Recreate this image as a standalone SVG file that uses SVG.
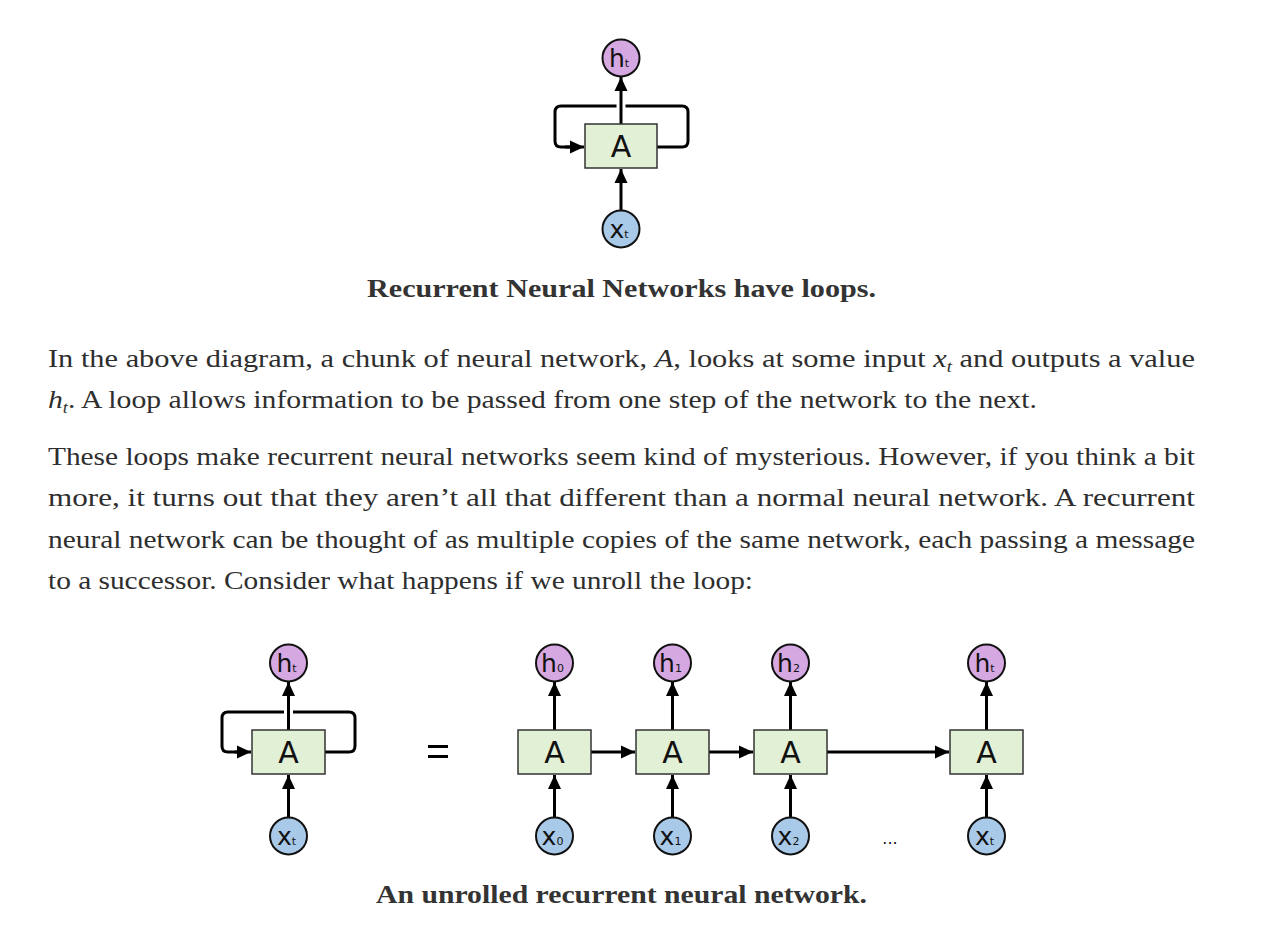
<svg xmlns="http://www.w3.org/2000/svg" width="1280" height="931" viewBox="0 0 1280 931">
<defs>
<marker id="ah" markerUnits="userSpaceOnUse" markerWidth="16" markerHeight="16" viewBox="0 0 16 16" refX="15" refY="8" orient="auto">
<path d="M1,1.5 L15,8 L1,14.5 Z" fill="#000"/>
</marker>
</defs>
<style>
.box{fill:#e2f0d6;stroke:#333;stroke-width:1.5}
.h{fill:#d5a8e2;stroke:#111;stroke-width:2}
.x{fill:#a9c9e8;stroke:#111;stroke-width:2}
.ln{fill:none;stroke:#000;stroke-width:3}
.gap{fill:none;stroke:#fff;stroke-width:9}
.lbl{font-family:"DejaVu Sans",sans-serif;fill:#111}
.big{font-size:30px}
.nm{font-size:25px}
.sb{font-size:11px}
.body{font-family:"Liberation Serif",serif;font-size:26px;fill:#2e2e2e}
.cap{font-family:"Liberation Serif",serif;font-size:26px;font-weight:bold;fill:#333}
</style>
<rect width="1280" height="931" fill="#fff"/>

<g id="connectors">
<!-- top diagram -->
<path class="ln" d="M575,147 H561 Q555,147 555,141 V112 Q555,106 561,106 H682 Q688,106 688,112 V141 Q688,147 682,147 H657"/>
<line class="ln" x1="565" y1="147" x2="584" y2="147" marker-end="url(#ah)"/>
<line class="gap" x1="621" y1="103" x2="621" y2="110"/>
<line class="ln" x1="621" y1="124" x2="621" y2="77" marker-end="url(#ah)"/>
<line class="ln" x1="621" y1="211" x2="621" y2="169" marker-end="url(#ah)"/>
<!-- bottom-left folded -->
<path class="ln" d="M240,752 H228 Q222,752 222,746 V718 Q222,712 228,712 H349 Q355,712 355,718 V746 Q355,752 349,752 H325"/>
<line class="ln" x1="235" y1="752" x2="251" y2="752" marker-end="url(#ah)"/>
<line class="gap" x1="288.5" y1="709" x2="288.5" y2="715"/>
<line class="ln" x1="288.5" y1="730" x2="288.5" y2="682" marker-end="url(#ah)"/>
<line class="ln" x1="288.5" y1="818" x2="288.5" y2="775" marker-end="url(#ah)"/>
<!-- unrolled -->
<line class="ln" x1="554.5" y1="730" x2="554.5" y2="682" marker-end="url(#ah)"/>
<line class="ln" x1="554.5" y1="818" x2="554.5" y2="775" marker-end="url(#ah)"/>
<line class="ln" x1="672.5" y1="730" x2="672.5" y2="682" marker-end="url(#ah)"/>
<line class="ln" x1="672.5" y1="818" x2="672.5" y2="775" marker-end="url(#ah)"/>
<line class="ln" x1="790.5" y1="730" x2="790.5" y2="682" marker-end="url(#ah)"/>
<line class="ln" x1="790.5" y1="818" x2="790.5" y2="775" marker-end="url(#ah)"/>
<line class="ln" x1="986.5" y1="730" x2="986.5" y2="682" marker-end="url(#ah)"/>
<line class="ln" x1="986.5" y1="818" x2="986.5" y2="775" marker-end="url(#ah)"/>
<line class="ln" x1="591" y1="752" x2="635" y2="752" marker-end="url(#ah)"/>
<line class="ln" x1="709" y1="752" x2="753" y2="752" marker-end="url(#ah)"/>
<line class="ln" x1="827" y1="752" x2="949" y2="752" marker-end="url(#ah)"/>
</g>

<!-- top diagram nodes -->
<g id="top-A"><rect class="box" x="585" y="124" width="72" height="44"/><text class="lbl big" x="621" y="157" text-anchor="middle">A</text></g>
<g id="top-h"><circle class="h" cx="621" cy="58" r="18.5"/><text class="lbl nm" x="619" y="67" text-anchor="middle">h<tspan class="sb">t</tspan></text></g>
<g id="top-x"><circle class="x" cx="621" cy="229" r="18.5"/><text class="lbl nm" x="619" y="238" text-anchor="middle">x<tspan class="sb">t</tspan></text></g>

<g id="caption1"><text class="cap" x="367" y="297" textLength="509" lengthAdjust="spacingAndGlyphs">Recurrent Neural Networks have loops.</text></g>

<g id="paragraphs">
<text class="body" x="48" y="367" textLength="1147" lengthAdjust="spacingAndGlyphs">In the above diagram, a chunk of neural network, <tspan font-style="italic">A</tspan>, looks at some input <tspan font-style="italic">x</tspan><tspan font-style="italic" font-size="16" dy="5">t</tspan><tspan dy="-5"> and outputs a value</tspan></text>
<text class="body" x="48" y="408" textLength="989" lengthAdjust="spacingAndGlyphs"><tspan font-style="italic">h</tspan><tspan font-style="italic" font-size="16" dy="5">t</tspan><tspan dy="-5">. A loop allows information to be passed from one step of the network to the next.</tspan></text>
<text class="body" x="48" y="465" textLength="1147" lengthAdjust="spacingAndGlyphs">These loops make recurrent neural networks seem kind of mysterious. However, if you think a bit</text>
<text class="body" x="48" y="506" textLength="1147" lengthAdjust="spacingAndGlyphs">more, it turns out that they aren’t all that different than a normal neural network. A recurrent</text>
<text class="body" x="48" y="548" textLength="1147" lengthAdjust="spacingAndGlyphs">neural network can be thought of as multiple copies of the same network, each passing a message</text>
<text class="body" x="48" y="589" textLength="705" lengthAdjust="spacingAndGlyphs">to a successor. Consider what happens if we unroll the loop:</text>
</g>

<!-- bottom-left folded -->
<g id="fold-A"><rect class="box" x="252" y="730" width="73" height="44"/><text class="lbl big" x="288.5" y="763" text-anchor="middle">A</text></g>
<g id="fold-h"><circle class="h" cx="288.5" cy="663" r="18.5"/><text class="lbl nm" x="286.5" y="672" text-anchor="middle">h<tspan class="sb">t</tspan></text></g>
<g id="fold-x"><circle class="x" cx="288.5" cy="836" r="18.5"/><text class="lbl nm" x="286.5" y="845" text-anchor="middle">x<tspan class="sb">t</tspan></text></g>

<g id="equals"><rect x="428" y="745" width="20" height="3" fill="#000"/><rect x="428" y="755" width="20" height="3" fill="#000"/></g>

<!-- unrolled -->
<g id="A0"><rect class="box" x="518" y="730" width="73" height="44"/><text class="lbl big" x="554.5" y="763" text-anchor="middle">A</text></g>
<g id="h0"><circle class="h" cx="554.5" cy="663" r="18.5"/><text class="lbl nm" x="552.5" y="672" text-anchor="middle">h<tspan class="sb">0</tspan></text></g>
<g id="x0"><circle class="x" cx="554.5" cy="836" r="18.5"/><text class="lbl nm" x="552.5" y="845" text-anchor="middle">x<tspan class="sb">0</tspan></text></g>

<g id="A1"><rect class="box" x="636" y="730" width="73" height="44"/><text class="lbl big" x="672.5" y="763" text-anchor="middle">A</text></g>
<g id="h1"><circle class="h" cx="672.5" cy="663" r="18.5"/><text class="lbl nm" x="670.5" y="672" text-anchor="middle">h<tspan class="sb">1</tspan></text></g>
<g id="x1"><circle class="x" cx="672.5" cy="836" r="18.5"/><text class="lbl nm" x="670.5" y="845" text-anchor="middle">x<tspan class="sb">1</tspan></text></g>

<g id="A2"><rect class="box" x="754" y="730" width="73" height="44"/><text class="lbl big" x="790.5" y="763" text-anchor="middle">A</text></g>
<g id="h2"><circle class="h" cx="790.5" cy="663" r="18.5"/><text class="lbl nm" x="788.5" y="672" text-anchor="middle">h<tspan class="sb">2</tspan></text></g>
<g id="x2"><circle class="x" cx="790.5" cy="836" r="18.5"/><text class="lbl nm" x="788.5" y="845" text-anchor="middle">x<tspan class="sb">2</tspan></text></g>

<g id="dots"><text class="lbl" x="890" y="844" font-size="16" fill="#333" text-anchor="middle">...</text></g>

<g id="At"><rect class="box" x="950" y="730" width="73" height="44"/><text class="lbl big" x="986.5" y="763" text-anchor="middle">A</text></g>
<g id="ht"><circle class="h" cx="986.5" cy="663" r="18.5"/><text class="lbl nm" x="984.5" y="672" text-anchor="middle">h<tspan class="sb">t</tspan></text></g>
<g id="xt"><circle class="x" cx="986.5" cy="836" r="18.5"/><text class="lbl nm" x="984.5" y="845" text-anchor="middle">x<tspan class="sb">t</tspan></text></g>

<g id="caption2"><text class="cap" x="376" y="903" textLength="491" lengthAdjust="spacingAndGlyphs">An unrolled recurrent neural network.</text></g>
</svg>
